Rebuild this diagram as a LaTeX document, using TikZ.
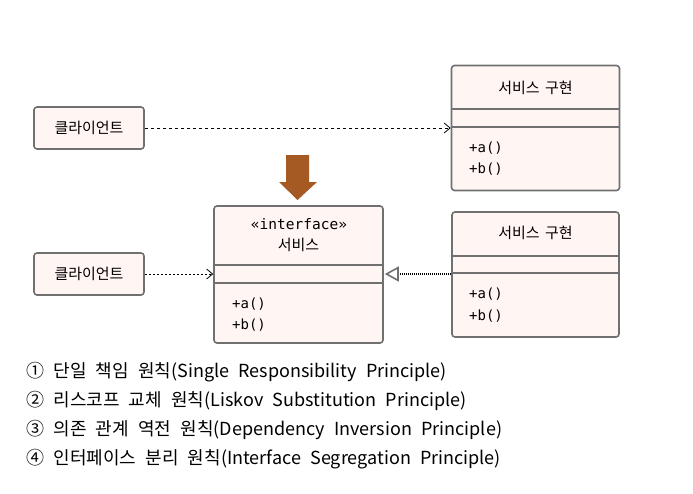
\documentclass[tikz,border=0pt]{standalone}
\usepackage{fontspec}
\setmainfont{Noto Sans CJK KR}[WordSpace=1.6]
\newfontfamily\codefont{DejaVu Sans Mono}
\newfontfamily\listfont{Noto Sans CJK KR}[WordSpace=2.3]
\usetikzlibrary{arrows.meta}
\definecolor{boxfill}{HTML}{FFF5F2}
\definecolor{boxline}{HTML}{707070}
\definecolor{brownarrow}{HTML}{A45A22}
\tikzset{
  umlbox/.style={draw=boxline, line width=1.6pt, rounded corners=3pt, fill=boxfill, inner sep=0pt},
  clientbox/.style={umlbox, minimum width=110pt, minimum height=42pt, font=\fontsize{15}{17}\selectfont},
  divider/.style={draw=boxline, line width=1.6pt},
  title/.style={font=\fontsize{15}{17}\selectfont, anchor=center},
  member/.style={font=\codefont\fontsize{14}{16}\selectfont, anchor=west, inner sep=0pt},
  dep/.style={draw=black, line width=0.8pt, dash pattern=on 3.5pt off 2.5pt, -{Straight Barb[length=6pt,width=10pt,line width=0.8pt]}},
  real/.style={draw=black, line width=1.4pt, dash pattern=on 1pt off 1pt, -{Triangle[open,length=14pt,width=15pt,line width=1.6pt,color=boxline]}},
  principle/.style={font=\listfont\fontsize{18}{20}\selectfont, anchor=west, inner sep=0pt}
}
\begin{document}
\begin{tikzpicture}[x=1pt,y=-1pt]
\useasboundingbox (0,0) rectangle (693,493);
% clients
\node[clientbox] (c1) at (89,128) {클라이언트};
\node[clientbox] (c2) at (89,274) {클라이언트};
% upper implementation
\node[umlbox, minimum width=168pt, minimum height=125pt] (s1) at (535.5,128) {};
\draw[divider] (s1.west |- 0,109) -- (s1.east |- 0,109);
\draw[divider] (s1.west |- 0,127) -- (s1.east |- 0,127);
\node[title] (s1t) at (535.5,88) {서비스 구현};
\node[member] (s1a) at (469,148) {+a()};
\node[member] (s1b) at (469,169) {+b()};
% interface
\node[umlbox, minimum width=169pt, minimum height=137pt] (i) at (298.5,274.5) {};
\draw[divider] (i.west |- 0,265) -- (i.east |- 0,265);
\draw[divider] (i.west |- 0,283) -- (i.east |- 0,283);
\node[title, font=\codefont\fontsize{14.5}{16}\selectfont] (it) at (299,224) {«interface»};
\node[title] (in) at (298.5,245) {서비스};
\node[member] (ia) at (232,304) {+a()};
\node[member] (ib) at (232,325) {+b()};
% lower implementation
\node[umlbox, minimum width=167pt, minimum height=125pt] (s2) at (535.5,274.5) {};
\draw[divider] (s2.west |- 0,256) -- (s2.east |- 0,256);
\draw[divider] (s2.west |- 0,273) -- (s2.east |- 0,273);
\node[title] (s2t) at (535.5,233) {서비스 구현};
\node[member] (s2a) at (469,294) {+a()};
\node[member] (s2b) at (469,316) {+b()};
% connectors
\draw[dep] (c1.east) -- (s1.west |- c1.east);
\draw[dep, dash pattern=on 2.5pt off 1.5pt] (c2.east) -- (i.west |- c2.east);
\draw[real] (s2.west |- 0,274) -- ([xshift=1pt]i.east |- 0,274);
% brown arrow
\fill[brownarrow] (286,155) -- (309,155) -- (309,182) -- (317,182) -- (297.5,200) -- (279,182) -- (286,182) -- cycle;
% principles
\node[principle] (p1) at (26,372) {① 단일 책임 원칙(Single Responsibility Principle)};
\node[principle] (p2) at (26,401) {② 리스코프 교체 원칙(Liskov Substitution Principle)};
\node[principle] (p3) at (26,430) {③ 의존 관계 역전 원칙(Dependency Inversion Principle)};
\node[principle] (p4) at (26,459) {④ 인터페이스 분리 원칙(Interface Segregation Principle)};
\end{tikzpicture}
\end{document}
